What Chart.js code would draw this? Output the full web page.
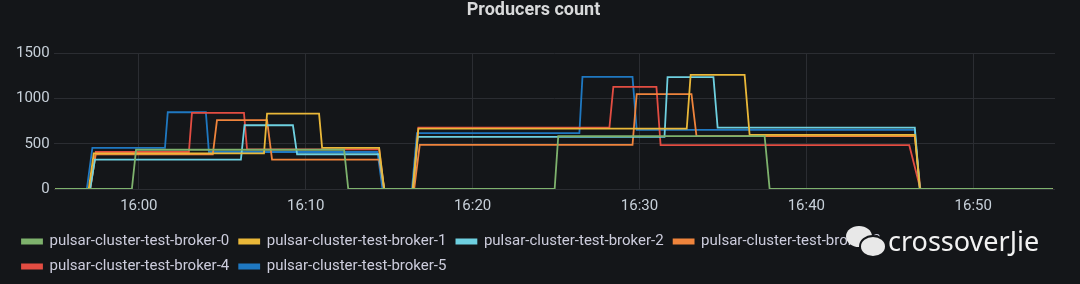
<!DOCTYPE html>
<html>
<head>
<meta charset="utf-8">
<script src="https://cdn.jsdelivr.net/npm/chart.js@4.4.1/dist/chart.umd.min.js"></script>
<style>
    html, body { margin: 0; padding: 0; background: #141619; }
    #wrap { position: relative; width: 1080px; height: 284px; }
    #marca { position: absolute; left: 846px; top: 226px; height: 30px; display: flex; align-items: center; }
    #marca .icone { position: relative; width: 40px; height: 30px; }
    #marca .b1 { position: absolute; left: 0; top: 0; width: 26px; height: 21px; border-radius: 50%; background: #e8e8e8; }
    #marca .b2 { position: absolute; left: 13px; top: 9px; width: 24px; height: 19px; border-radius: 50%; background: #e8e8e8; border: 2px solid #141619; }
    #marca .txt { color: #f2f2f2; font-family: 'Noto Sans', sans-serif; font-size: 27px; line-height: 30px; margin-left: 2px; }
</style>
</head>
<body>
<div id="wrap">
    <canvas id="chart-producers" width="1080" height="284"></canvas>
    <div id="marca"><div class="icone"><div class="b1"></div><div class="b2"></div></div><span class="txt">crossoverJie</span></div>
</div>
<script>
// ===== PRODUCERS COUNT =====

const nomesBrokers = [
    'pulsar-cluster-test-broker-0',
    'pulsar-cluster-test-broker-1',
    'pulsar-cluster-test-broker-2',
    'pulsar-cluster-test-broker-3',
    'pulsar-cluster-test-broker-4',
    'pulsar-cluster-test-broker-5'
];

const coresBrokers = ['#7EB26D', '#EAB839', '#6ED0E0', '#EF843C', '#E24D42', '#1F78C1'];

// horários (HH:MM:SS) e contagem de producers de cada broker
const horasBroker0 = ['15:55:00', '15:59:35', '15:59:50', '16:12:18', '16:12:33', '16:24:55', '16:25:08', '16:37:30', '16:37:48', '16:54:45'];
const valoresBroker0 = [0, 0, 435, 435, 0, 0, 585, 585, 0, 0];

const horasBroker1 = ['15:55:00', '15:57:00', '15:57:18', '16:07:30', '16:07:41', '16:10:48', '16:10:59', '16:14:24', '16:14:42', '16:16:25', '16:16:45', '16:32:50', '16:33:04', '16:36:18', '16:36:36', '16:46:30', '16:46:48', '16:54:45'];
const valoresBroker1 = [0, 0, 395, 395, 835, 835, 455, 455, 0, 0, 668, 668, 1265, 1265, 600, 600, 0, 0];

const horasBroker2 = ['15:55:00', '15:57:05', '15:57:22', '16:06:07', '16:06:20', '16:09:14', '16:09:29', '16:14:24', '16:14:42', '16:16:25', '16:16:43', '16:31:30', '16:31:41', '16:34:26', '16:34:41', '16:46:30', '16:46:48', '16:54:45'];
const valoresBroker2 = [0, 0, 325, 325, 706, 706, 385, 385, 0, 0, 577, 577, 1240, 1240, 680, 680, 0, 0];

const horasBroker3 = ['15:55:00', '15:57:05', '15:57:25', '16:04:26', '16:04:41', '16:07:41', '16:07:59', '16:14:24', '16:14:42', '16:16:30', '16:16:50', '16:29:35', '16:29:50', '16:33:07', '16:33:25', '16:46:30', '16:46:50', '16:54:45'];
const valoresBroker3 = [0, 0, 385, 385, 762, 762, 325, 325, 0, 0, 488, 488, 1050, 1050, 585, 585, 0, 0];

const horasBroker4 = ['15:55:00', '15:57:05', '15:57:25', '16:03:00', '16:03:11', '16:06:18', '16:06:29', '16:14:24', '16:14:42', '16:16:28', '16:16:45', '16:28:12', '16:28:26', '16:31:01', '16:31:16', '16:46:10', '16:46:50', '16:54:45'];
const valoresBroker4 = [0, 0, 410, 410, 843, 843, 440, 440, 0, 0, 680, 680, 1131, 1131, 485, 485, 0, 0];

const horasBroker5 = ['15:55:00', '15:56:53', '15:57:13', '16:01:34', '16:01:44', '16:04:01', '16:04:12', '16:14:18', '16:14:36', '16:16:22', '16:16:40', '16:26:24', '16:26:35', '16:29:35', '16:29:50', '16:46:30', '16:46:48', '16:54:45'];
const valoresBroker5 = [0, 0, 455, 455, 850, 850, 410, 410, 0, 0, 620, 620, 1242, 1242, 655, 655, 0, 0];

// marcas do eixo X e do eixo Y
const marcasHorario = ['16:00', '16:10', '16:20', '16:30', '16:40', '16:50'];
const marcasProducers = [0, 500, 1000, 1500];

const horasPorBroker = [horasBroker0, horasBroker1, horasBroker2, horasBroker3, horasBroker4, horasBroker5];
const valoresPorBroker = [valoresBroker0, valoresBroker1, valoresBroker2, valoresBroker3, valoresBroker4, valoresBroker5];

// "HH:MM(:SS)" -> minutos desde meia-noite
function paraMinutos(h) {
    const p = h.split(':').map(Number);
    return p[0] * 60 + p[1] + (p[2] || 0) / 60;
}

function formatarHora(min) {
    const h = Math.floor(min / 60);
    const m = Math.round(min % 60);
    return String(h).padStart(2, '0') + ':' + String(m).padStart(2, '0');
}

Chart.defaults.font.family = 'Roboto, "Noto Sans", sans-serif';
Chart.defaults.color = '#c7d0d9';

const datasets = nomesBrokers.map((nome, i) => ({
    label: nome,
    data: horasPorBroker[i].map((h, j) => ({ x: paraMinutos(h), y: valoresPorBroker[i][j] })),
    borderColor: coresBrokers[i],
    backgroundColor: coresBrokers[i],
    borderWidth: 1.8,
    pointRadius: 0,
    tension: 0,
    fill: false
}));

const fundo = {
    id: 'fundo',
    beforeDraw(chart) {
        const c = chart.ctx;
        c.save();
        c.fillStyle = '#141619';
        c.fillRect(0, 0, chart.width, chart.height);
        c.restore();
    }
};

const ctx = document.getElementById('chart-producers');

const chartProducers = new Chart(ctx, {
    type: 'line',
    data: { datasets },
    plugins: [fundo],
    options: {
        responsive: false,
        animation: false,
        events: [],
        layout: {
            padding: { left: 12, right: 25, top: 0, bottom: 0 }
        },
        plugins: {
            title: {
                display: true,
                text: 'Producers count',
                color: '#d8d9da',
                font: { size: 18, weight: 'bold' },
                padding: { top: 0, bottom: 32 }
            },
            legend: {
                position: 'bottom',
                align: 'start',
                labels: {
                    color: '#ccccdc',
                    font: { size: 15 },
                    boxWidth: 20,
                    boxHeight: 4,
                    padding: 10
                }
            },
            tooltip: { enabled: false }
        },
        scales: {
            x: {
                type: 'linear',
                min: paraMinutos('15:54:54'),
                max: paraMinutos('16:54:54'),
                afterBuildTicks: axis => {
                    axis.ticks = marcasHorario.map(h => ({ value: paraMinutos(h) }));
                },
                ticks: {
                    callback: v => formatarHora(v),
                    color: '#c7d0d9',
                    font: { size: 15 },
                    padding: 8.5,
                    maxRotation: 0
                },
                grid: { color: '#2b2d32', drawTicks: false },
                border: { display: false }
            },
            y: {
                min: 0,
                max: 1500,
                afterBuildTicks: axis => {
                    axis.ticks = marcasProducers.map(v => ({ value: v }));
                },
                ticks: {
                    callback: v => String(v),
                    color: '#c7d0d9',
                    font: { size: 15 },
                    padding: 4
                },
                grid: { color: '#2b2d32', drawTicks: false },
                border: { display: false }
            }
        }
    }
});
</script>
</body>
</html>
